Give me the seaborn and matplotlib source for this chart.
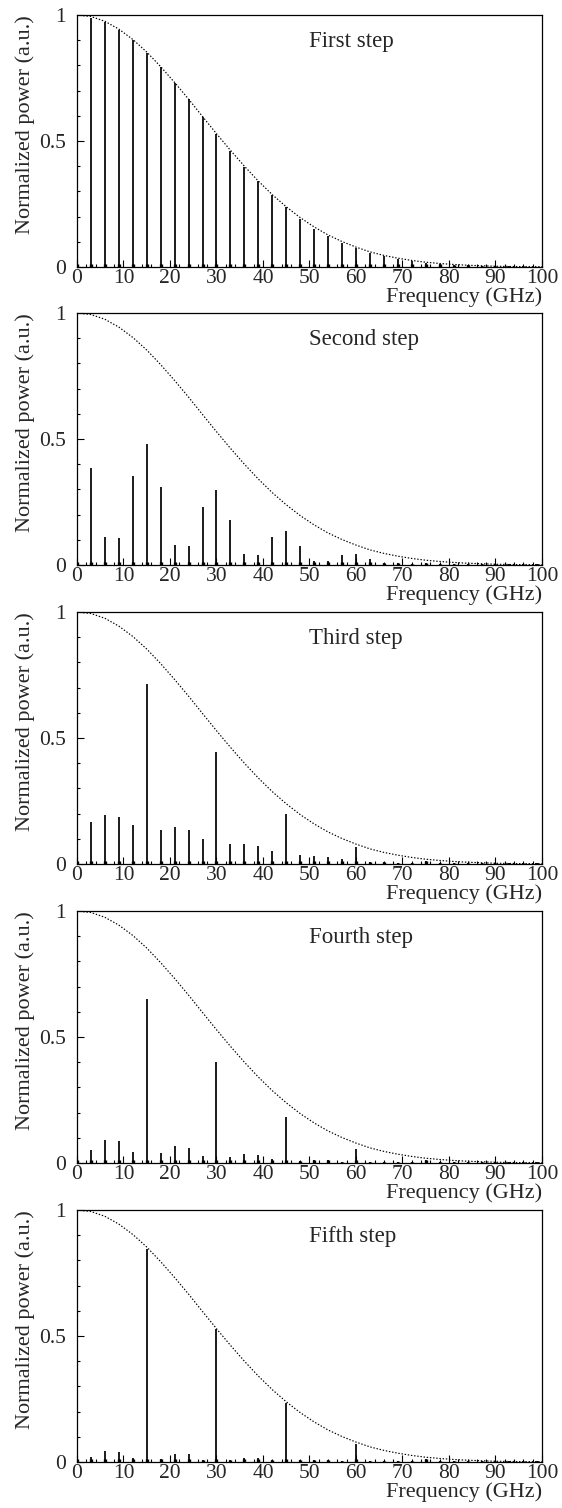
#!/usr/bin/env python
'''
Spectra of the five steps: spikes every 3 GHz under a Gaussian-like envelope.
'''

import matplotlib
matplotlib.use('Agg')
import matplotlib.pyplot as plt
from matplotlib.ticker import MultipleLocator
import numpy as np
import pandas as pd
import seaborn as sns

# spike positions (GHz)
freq_ghz = [0, 3, 6, 9, 12, 15, 18, 21, 24, 27,
            30, 33, 36, 39, 42, 45, 48, 51, 54, 57,
            60, 63, 66, 69, 72, 75, 78, 81, 84, 87,
            90, 93, 96, 99]

step_names = ['First step', 'Second step', 'Third step', 'Fourth step', 'Fifth step']

first_step = [1.00, 0.99, 0.972, 0.942, 0.902, 0.851, 0.794, 0.730, 0.667, 0.595,
              0.529, 0.460, 0.397, 0.340, 0.284, 0.238, 0.192, 0.152, 0.123, 0.095,
              0.075, 0.057, 0.042, 0.032, 0.024, 0.016, 0.012, 0.008, 0.006, 0.004,
              0.003, 0.002, 0.002, 0.001]
second_step = [0.10, 0.385, 0.110, 0.106, 0.354, 0.479, 0.311, 0.080, 0.075, 0.232,
               0.297, 0.179, 0.045, 0.040, 0.112, 0.133, 0.077, 0.017, 0.016, 0.040,
               0.044, 0.024, 0.008, 0.006, 0.005, 0.006, 0.004, 0.003, 0.003, 0.003,
               0.003, 0.002, 0.002, 0.002]
third_step = [0.79, 0.166, 0.194, 0.187, 0.153, 0.715, 0.135, 0.146, 0.133, 0.100,
              0.443, 0.078, 0.080, 0.070, 0.050, 0.199, 0.034, 0.032, 0.026, 0.018,
              0.067, 0.008, 0.006, 0.005, 0.005, 0.012, 0.003, 0.003, 0.003, 0.003,
              0.004, 0.003, 0.003, 0.002]
fourth_step = [0.72, 0.050, 0.092, 0.088, 0.045, 0.651, 0.040, 0.068, 0.061, 0.029,
               0.402, 0.024, 0.037, 0.032, 0.015, 0.181, 0.009, 0.013, 0.011, 0.005,
               0.057, 0.004, 0.004, 0.004, 0.004, 0.012, 0.003, 0.003, 0.003, 0.003,
               0.003, 0.003, 0.003, 0.003]
fifth_step = [0.08, 0.019, 0.042, 0.040, 0.015, 0.845, 0.013, 0.032, 0.031, 0.009,
              0.527, 0.008, 0.017, 0.016, 0.008, 0.235, 0.007, 0.006, 0.007, 0.004,
              0.073, 0.003, 0.003, 0.003, 0.003, 0.010, 0.002, 0.002, 0.002, 0.002,
              0.002, 0.002, 0.002, 0.002]

# dotted envelope
envelope_freq = [0, 3, 6, 9, 12, 15, 18, 21, 24, 27,
                 30, 33, 36, 39, 42, 45, 48, 51, 54, 57,
                 60, 63, 66, 69, 72, 75, 78, 81, 84, 87,
                 90, 93, 96, 100]
envelope_power = [1.000, 0.994, 0.975, 0.944, 0.903, 0.853, 0.795, 0.732, 0.666, 0.597,
                  0.529, 0.463, 0.400, 0.341, 0.287, 0.239, 0.196, 0.159, 0.127, 0.101,
                  0.079, 0.060, 0.046, 0.035, 0.026, 0.019, 0.014, 0.010, 0.007, 0.005,
                  0.003, 0.002, 0.0015, 0.001]

steps = [first_step, second_step, third_step, fourth_step, fifth_step]

sns.set_theme(style='ticks')
plt.rcParams['font.family'] = ['Liberation Serif', 'DejaVu Serif']
plt.rcParams['font.size'] = 16

W, H = 562, 1508
fig = plt.figure(figsize=(W / 100, H / 100), dpi=100)

# axes frames in pixels
ax_left, ax_right = 77, 542
ax_tops = [15, 313, 612, 911, 1210]
ax_h = 252

df_env = pd.DataFrame({'freq': envelope_freq, 'power': envelope_power})

for name, heights, top in zip(step_names, steps, ax_tops):
    ax = fig.add_axes([ax_left / W, 1 - (top + ax_h) / H,
                       (ax_right - ax_left) / W, ax_h / H])
    df = pd.DataFrame({'freq': freq_ghz, 'power': heights})

    # spikes plus a slightly broader foot at the base
    ax.vlines(df['freq'], 0, df['power'], color='black', lw=1.25)
    ax.vlines(df['freq'], 0, np.minimum(df['power'], 0.012), color='black', lw=2.4)

    sns.lineplot(data=df_env, x='freq', y='power', ax=ax, color='black',
                 lw=0.85, linestyle=(0, (1.2, 1.5)))

    ax.set_xlim(0, 100)
    ax.set_ylim(0, 1)
    ax.set_xticks(range(0, 101, 10))
    ax.xaxis.set_minor_locator(MultipleLocator(2))
    ax.set_yticks([0, 0.5, 1], labels=['0', '0.5', '1'])
    ax.yaxis.set_minor_locator(MultipleLocator(0.1))
    ax.tick_params(which='both', direction='in', top=False, right=False,
                   labelsize=15.5, width=0.8, color='black')
    ax.tick_params(which='major', length=5)
    ax.tick_params(which='minor', length=2.5)
    ax.tick_params(axis='x', pad=1.5)
    ax.tick_params(axis='y', pad=8)
    for s in ax.spines.values():
        s.set_linewidth(0.9)
        s.set_color('black')

    ax.set_xlabel('Frequency (GHz)', loc='right', fontsize=16)
    ax.xaxis.set_label_coords(1.0, -0.08)
    ax.set_ylabel('Normalized power (a.u.)', loc='top', fontsize=16)
    ax.yaxis.set_label_coords(-0.09, 1.0)

    ax.text(0.50, 0.895, name, transform=ax.transAxes, fontsize=16.5,
            ha='left', va='center')

fig.savefig('out.png', dpi=100)
